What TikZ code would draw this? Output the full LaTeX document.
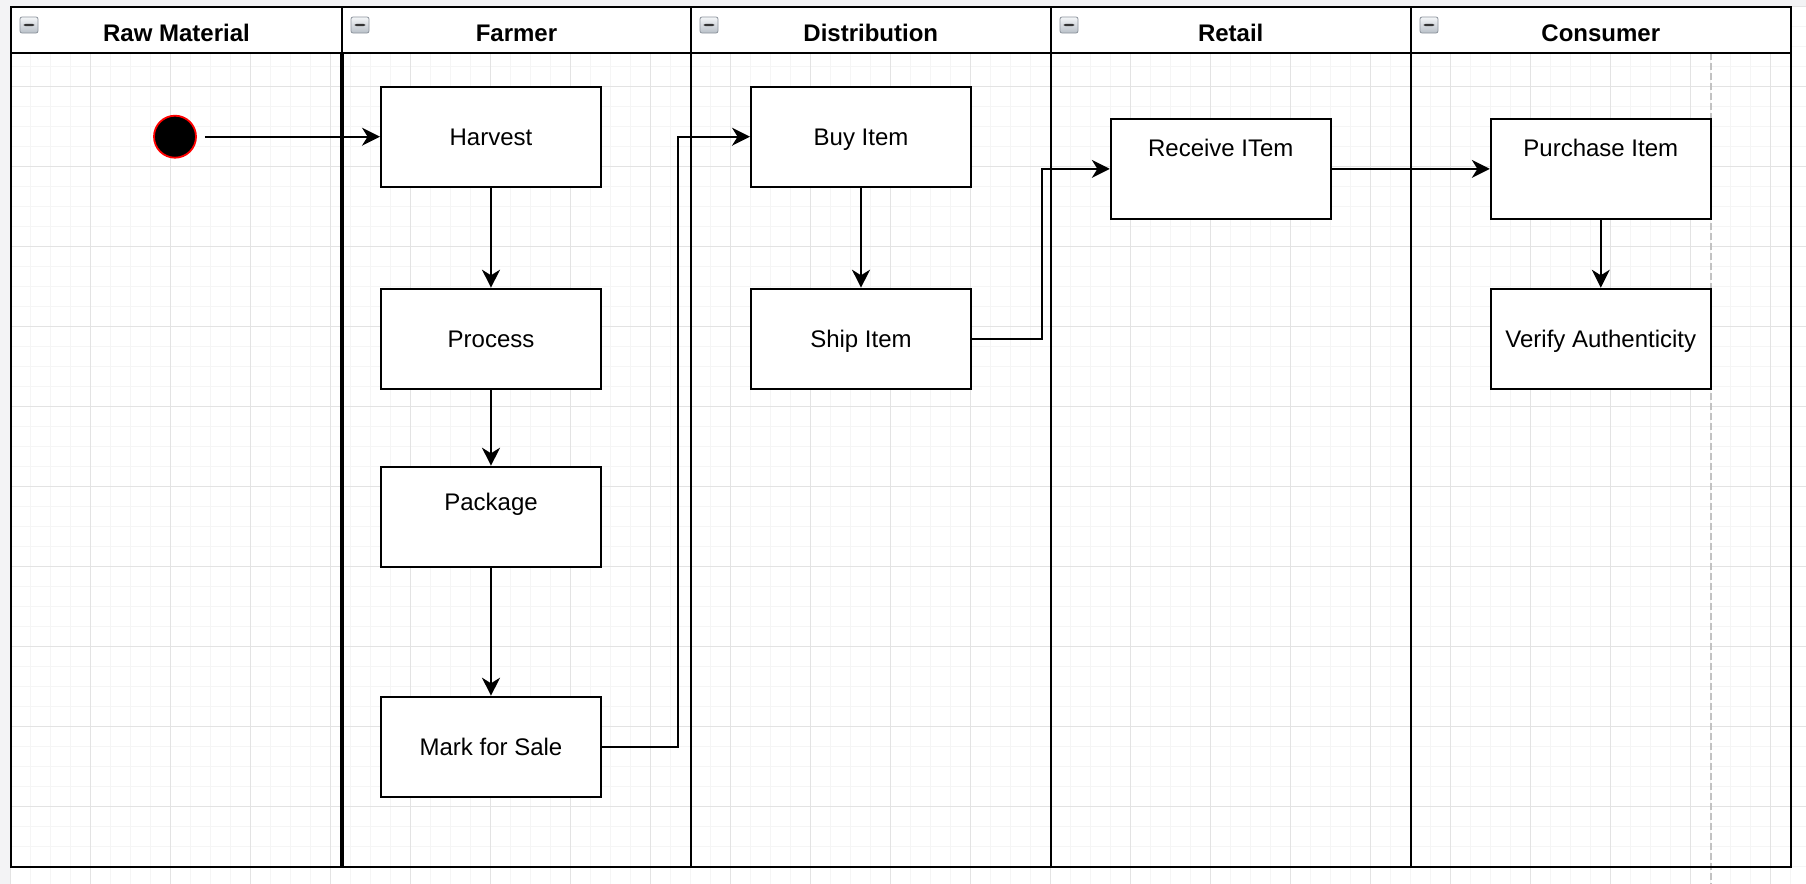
\documentclass[tikz,border=0pt]{standalone}
\usepackage{fontspec}
\setmainfont{Liberation Sans}
\usetikzlibrary{arrows.meta}

\definecolor{canvas}{HTML}{F3F3F5}
\definecolor{gridminor}{HTML}{F5F5F5}
\definecolor{gridmajor}{HTML}{E3E3E3}
\definecolor{pagebreak}{HTML}{C2C2C2}
\definecolor{iconedge}{HTML}{8C939C}
\definecolor{icontop}{HTML}{F4F6F8}
\definecolor{iconbot}{HTML}{B9C0C8}

\tikzset{
  lanetitle/.style={font=\fontsize{12}{14}\selectfont\bfseries, inner sep=0pt},
  stepbox/.style={draw, line width=1pt, fill=white, minimum width=110pt,
    minimum height=50pt, inner sep=0pt, font=\fontsize{12}{14}\selectfont,
    text height=8.6pt, text depth=0pt},
  boxtext/.style={font=\fontsize{12}{14}\selectfont, inner sep=0pt},
  startdot/.style={circle, draw=red, line width=0.9pt, fill=black,
    minimum size=21pt, inner sep=0pt},
  flow/.style={line width=0.9pt, -{Stealth[length=9pt,width=9pt,inset=2.8pt]}},
  collapse/.style={rounded corners=1pt, draw=iconedge, line width=0.4pt,
    top color=icontop, bottom color=iconbot, minimum width=9pt,
    minimum height=8pt, inner sep=0pt,
    path picture={\fill[black!80]
      ([xshift=-2.6pt,yshift=-0.6pt]path picture bounding box.center) rectangle
      ([xshift=2.6pt,yshift=0.6pt]path picture bounding box.center);}},
}

\begin{document}
\begin{tikzpicture}[x=0.5pt,y=-0.5pt]
  \useasboundingbox (0,0) rectangle (1806,884);

  % canvas and page
  \fill[canvas] (0,0) rectangle (1806,884);
  \fill[white] (10,6.7) rectangle (1806,884);

  % background grid: minor every 20, major every 80
  \foreach \i in {0,...,89} {
    \draw[gridminor, line width=0.5pt] ({10+20*\i},6.7) -- ({10+20*\i},884);
  }
  \foreach \i in {0,...,43} {
    \draw[gridminor, line width=0.5pt] (10,{6.7+20*\i}) -- (1806,{6.7+20*\i});
  }
  \foreach \i in {0,...,22} {
    \draw[gridmajor, line width=0.5pt] ({10+80*\i},6.7) -- ({10+80*\i},884);
  }
  \foreach \i in {0,...,10} {
    \draw[gridmajor, line width=0.5pt] (10,{6.7+80*\i}) -- (1806,{6.7+80*\i});
  }

  % page break
  \draw[pagebreak, line width=1pt, dash pattern=on 3.5pt off 1.5pt] (1711,52.7) -- (1711,884);

  % pool: header row and lanes
  \fill[white] (11,6.7) rectangle (1791,52.7);
  \draw[line width=1pt] (11,6.7) rectangle (1791,866.7);
  \draw[line width=1pt] (11,52.7) -- (1791,52.7);
  \draw[line width=1pt] (342,6.7) -- (342,52.7);
  \draw[line width=2pt] (342,52.7) -- (342,866.7);
  \draw[line width=1pt] (691,6.7) -- (691,866.7);
  \draw[line width=1pt] (1050.7,6.7) -- (1050.7,866.7);
  \draw[line width=1pt] (1410.7,6.7) -- (1410.7,866.7);

  % lane titles
  \node[lanetitle, anchor=base] (t-raw)     at (176.5,41.7)  {Raw Material};
  \node[lanetitle, anchor=base] (t-farmer)  at (516.5,41.7)  {Farmer};
  \node[lanetitle, anchor=base] (t-dist)    at (870.8,41.7)  {Distribution};
  \node[lanetitle, anchor=base] (t-retail)  at (1230.7,41.7) {Retail};
  \node[lanetitle, anchor=base] (t-consume) at (1600.8,41.7) {Consumer};

  % collapse buttons
  \node[collapse] (c-raw)     at (29,25)     {};
  \node[collapse] (c-farmer)  at (360,25)    {};
  \node[collapse] (c-dist)    at (709,25)    {};
  \node[collapse] (c-retail)  at (1069,25)   {};
  \node[collapse] (c-consume) at (1429,25)   {};

  % activities
  \node[startdot] (start) at (175,136.7) {};
  \node[stepbox] (harvest)  at (491,136.7) {Harvest};
  \node[stepbox] (process)  at (491,338.7) {Process};
  \node[stepbox] (package)  at (491,516.7) {};
  \node[boxtext, anchor=base] (package-t) at (491,510) {Package};
  \node[stepbox] (mark)     at (491,746.7) {Mark for Sale};

  \node[stepbox] (buy)      at (861,136.7) {Buy Item};
  \node[stepbox] (ship)     at (861,338.7) {Ship Item};

  \node[stepbox] (receive)  at (1220.8,168.9) {};
  \node[boxtext, anchor=base] (receive-t) at (1220.8,156) {Receive ITem};

  \node[stepbox] (purchase) at (1600.8,168.9) {};
  \node[boxtext, anchor=base] (purchase-t) at (1600.8,156) {Purchase Item};
  \node[stepbox] (verify)   at (1600.8,338.7) {Verify Authenticity};

  % flow
  \draw[flow, shorten <=4pt] (start) -- (harvest);
  \draw[flow] (harvest) -- (process);
  \draw[flow] (process) -- (package);
  \draw[flow] (package) -- (mark);
  \draw[flow] (mark.east) -- ++(76,0) |- (buy.west);
  \draw[flow] (buy) -- (ship);
  \draw[flow] (ship.east) -- ++(70,0) |- (receive.west);
  \draw[flow] (receive.east) -- (purchase.west);
  \draw[flow] (purchase) -- (verify);
\end{tikzpicture}
\end{document}
